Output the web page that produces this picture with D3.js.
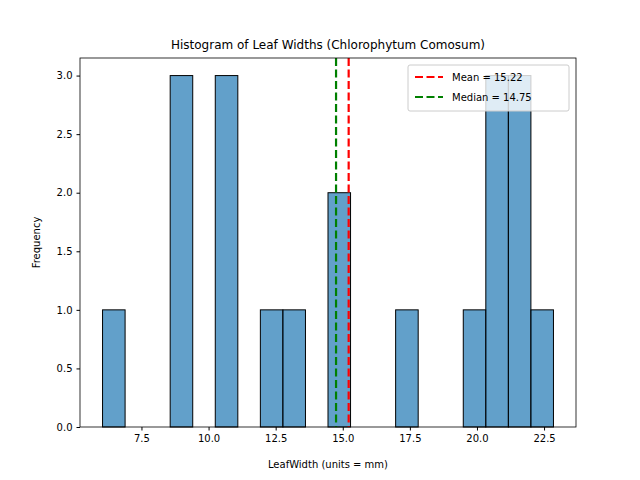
<!DOCTYPE html>
<html><head><meta charset="utf-8">
<script src="https://cdn.jsdelivr.net/npm/d3@7"></script>
<style>body{margin:0;background:#fff}text{font-family:"DejaVu Sans",sans-serif}</style>
</head><body><svg id="c" width="640" height="480"></svg>
<script>
// leaf widths (mm)
const leafWidths = [6.05, 8.8, 9.0, 9.2, 10.4, 10.6, 10.8, 12.3, 13.1, 14.6, 14.9,
  17.3, 19.5, 20.4, 20.4, 20.5, 21.2, 21.2, 21.3, 22.85];
const xTicks = [7.5, 10.0, 12.5, 15.0, 17.5, 20.0, 22.5];
const yTicks = [0, 0.5, 1.0, 1.5, 2.0, 2.5, 3.0];
const nBins = 20;

const svg = d3.select("#c");
const m = {l: 80, r: 576, t: 58, b: 427};

const lo = d3.min(leafWidths), hi = d3.max(leafWidths);
const step = (hi - lo) / nBins;
const edges = d3.range(1, nBins).map(i => lo + i * step);
const bins = d3.bin().domain([lo, hi]).thresholds(edges)(leafWidths);
const pad = (hi - lo) * 0.05;

const x = d3.scaleLinear().domain([lo - pad, hi + pad]).range([m.l, m.r]);
const yMax = d3.max(bins, b => b.length) * 1.05;
const y = d3.scaleLinear().domain([0, yMax]).range([m.b, m.t]);

svg.append("g").selectAll("rect").data(bins).enter().append("rect")
  .attr("x", d => x(d.x0)).attr("width", d => x(d.x1) - x(d.x0))
  .attr("y", d => y(d.length)).attr("height", d => y(0) - y(d.length))
  .attr("fill", "#1f77b4").attr("fill-opacity", 0.7)
  .attr("stroke", "#000").attr("stroke-width", 1)
  .style("display", d => d.length ? null : "none");

const mean = d3.mean(leafWidths), median = d3.median(leafWidths);
const lines = [
  {v: mean, c: "red", label: "Mean = " + mean.toFixed(2)},
  {v: median, c: "green", label: "Median = " + median.toFixed(2)}
];
svg.selectAll("line.ref").data(lines).enter().append("line")
  .attr("x1", d => x(d.v)).attr("x2", d => x(d.v))
  .attr("y1", m.t).attr("y2", m.b)
  .attr("stroke", d => d.c).attr("stroke-width", 2.2).attr("stroke-dasharray", "8,3.5");

svg.append("rect").attr("x", m.l).attr("y", m.t).attr("width", m.r - m.l).attr("height", m.b - m.t)
  .attr("fill", "none").attr("stroke", "#000").attr("stroke-width", 0.8);

const xa = svg.append("g").attr("transform", `translate(0,${m.b})`)
  .call(d3.axisBottom(x).tickValues(xTicks).tickFormat(d3.format(".1f")).tickSize(3.5).tickPadding(4));
const ya = svg.append("g").attr("transform", `translate(${m.l},0)`)
  .call(d3.axisLeft(y).tickValues(yTicks).tickFormat(d3.format(".1f")).tickSize(3.5).tickPadding(4));
[xa, ya].forEach(a => {
  a.select(".domain").remove();
  a.selectAll("text").attr("font-size", 10).attr("fill", "#000").style("font-family", "DejaVu Sans");
});

svg.append("text").attr("x", (m.l + m.r) / 2).attr("y", 468).attr("text-anchor", "middle")
  .attr("font-size", 10).text("LeafWidth (units = mm)");
svg.append("text").attr("transform", `translate(40,${(m.t + m.b) / 2}) rotate(-90)`)
  .attr("text-anchor", "middle").attr("font-size", 10).text("Frequency");
svg.append("text").attr("x", (m.l + m.r) / 2).attr("y", 49).attr("text-anchor", "middle")
  .attr("font-size", 12).text("Histogram of Leaf Widths (Chlorophytum Comosum)");

const lg = svg.append("g").attr("transform", "translate(408,65)");
lg.append("rect").attr("width", 161).attr("height", 46).attr("rx", 2)
  .attr("fill", "#fff").attr("fill-opacity", 0.8).attr("stroke", "#ccc");
lines.forEach((d, i) => {
  const yy = 12 + i * 20;
  lg.append("line").attr("x1", 7).attr("x2", 35).attr("y1", yy).attr("y2", yy)
    .attr("stroke", d.c).attr("stroke-width", 2.2).attr("stroke-dasharray", "8,3.5");
  lg.append("text").attr("x", 44).attr("y", yy + 4).attr("font-size", 10).text(d.label);
});
</script></body></html>
